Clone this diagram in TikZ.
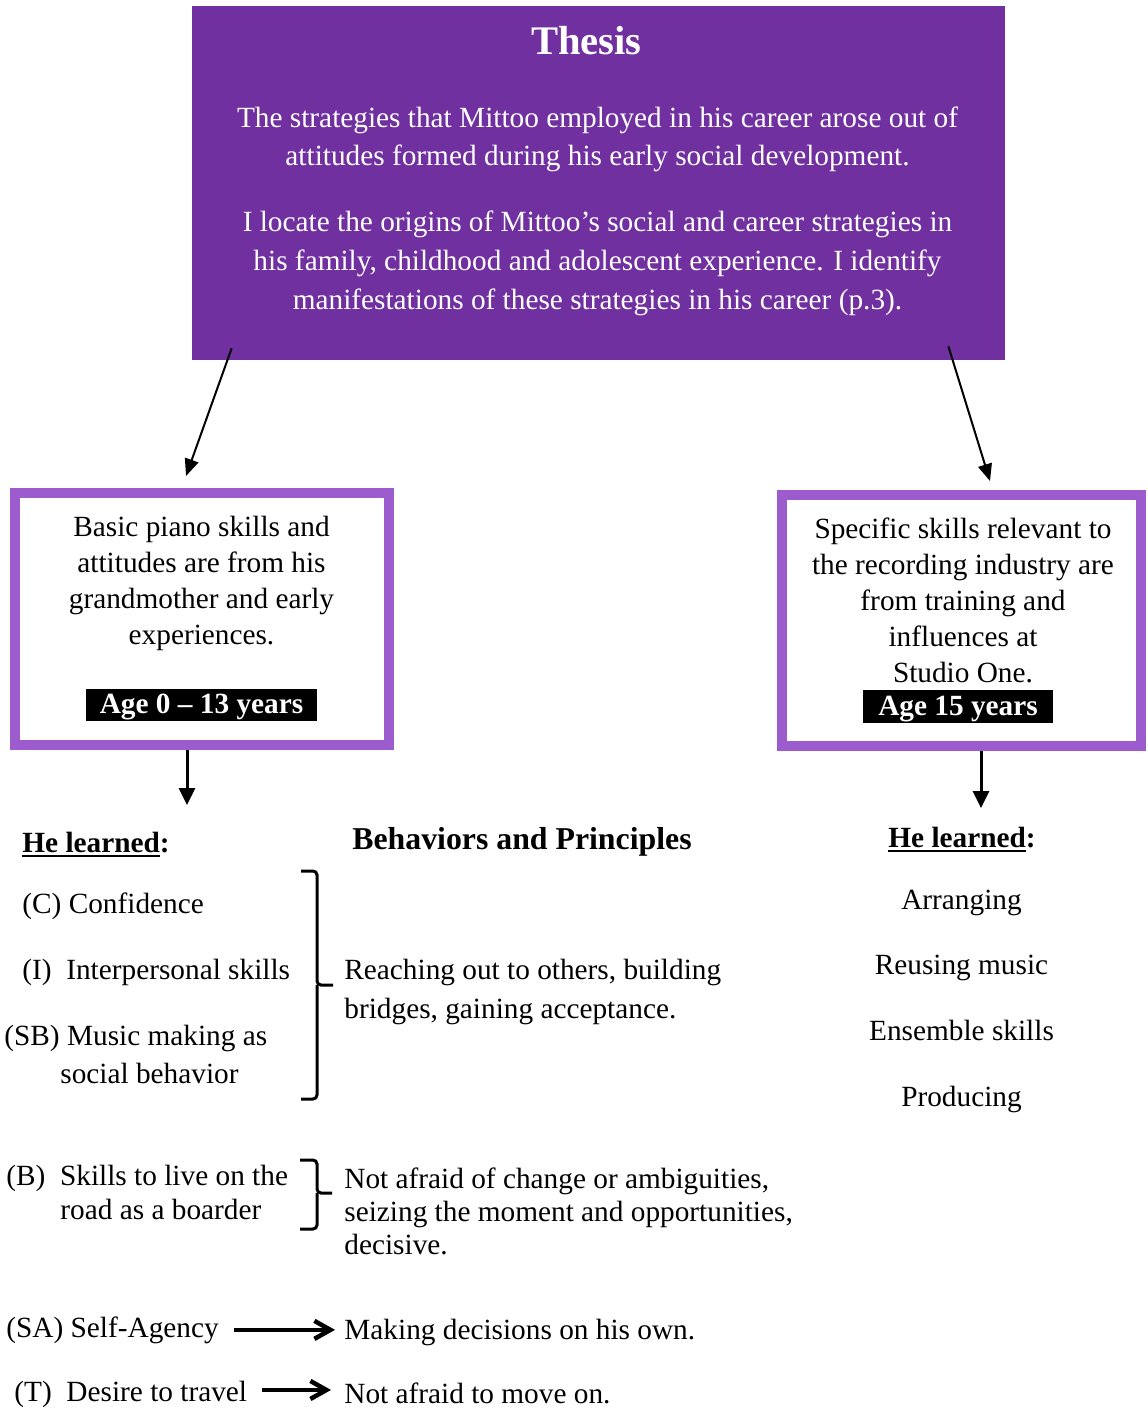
\documentclass[tikz,border=0pt]{standalone}
\usepackage{fontspec}
\setmainfont{Liberation Serif}
\usetikzlibrary{arrows.meta}
\definecolor{thesispurple}{HTML}{7030A0}
\definecolor{stagepurple}{HTML}{9D5CCE}
\newcommand{\learnline}[1]{\setbox0\hbox{#1}\rlap{\rule[-2.6pt]{\wd0}{1.3pt}}\box0}
\tikzset{
  thesisbox/.style = {rectangle, fill=thesispurple, minimum width=406.5pt,
                      minimum height=177pt, inner sep=0pt},
  thesistxt/.style = {text=white, align=center, inner sep=0pt, anchor=base},
  stagebox/.style  = {rectangle, draw=stagepurple, line width=5pt, fill=white, inner sep=0pt},
  stagetxt/.style  = {align=center, inner sep=0pt, anchor=base,
                      font=\fontsize{14.65}{18}\selectfont},
  agetag/.style    = {rectangle, fill=black, text=white, inner sep=0pt, minimum height=16pt,
                      text height=10.5pt, text depth=2pt,
                      font=\fontsize{14.65}{18}\selectfont\bfseries},
  item/.style      = {anchor=base west, inner sep=0pt, align=left,
                      font=\fontsize{14.65}{19}\selectfont},
  head/.style      = {anchor=base west, inner sep=0pt, font=\fontsize{14.65}{18}\selectfont\bfseries},
  skill/.style     = {anchor=base, inner sep=0pt, font=\fontsize{14.65}{18}\selectfont},
  link/.style      = {line width=1pt, -{Triangle[length=8.5pt,width=7pt]}},
  drop/.style      = {line width=1.5pt, -{Triangle[length=8.5pt,width=8pt]}},
  lead/.style      = {line width=2.25pt, -{Straight Barb[length=8pt,width=9pt]}},
  bracket/.style   = {line width=1.5pt, rounded corners=2pt},
}

\begin{document}
\begin{tikzpicture}[x=0.5pt, y=-0.5pt]
\useasboundingbox (0,0) rectangle (1147,1409);

% Thesis at the top (multi-line texts sit on their last baseline)
\node (thesis) [thesisbox] at (598.5,183) {};
\node (title) [thesistxt, font=\fontsize{20.3}{24}\selectfont\bfseries] at (586.5,54) {Thesis};
\node (claim) [thesistxt, font=\fontsize{14.65}{19}\selectfont] at (597.5,165)
  {The strategies that Mittoo employed in his career arose out of\\
   attitudes formed during his early social development.};
\node (origins) [thesistxt, font=\fontsize{14.65}{19.5}\selectfont] at (597.5,309)
  {I locate the origins of Mittoo’s social and career strategies in\\
   his family, childhood and adolescent experience. I identify\\
   manifestations of these strategies in his career (p.3).};

% The two stages
\node (early) [stagebox, minimum width=187pt, minimum height=126pt] at (202,619) {};
\node (earlytxt) [stagetxt] at (201.5,644) {Basic piano skills and\\attitudes are from his\\
  grandmother and early\\experiences.};
\node (earlyage) [agetag, minimum width=115.5pt] at (201.5,705) {Age 0 – 13 years};

\node (studio) [stagebox, minimum width=179.5pt, minimum height=125.5pt] at (961.5,620.5) {};
\node (studiotxt) [stagetxt] at (963,682) {Specific skills relevant to\\the recording industry are\\
  from training and\\influences at\\Studio One.};
\node (studioage) [agetag, minimum width=95pt, minimum height=16.5pt] at (958,706.5) {Age 15 years};

\draw [link] ([shift={(40,-12)}]thesis.south west) -- ([shift={(176,-12)}]early.north west);
\draw [link] ([shift={(-57,-14)}]thesis.south east) -- ([shift={(28.5,-9)}]studio.north);

\coordinate (dropL) at (187,805);
\coordinate (dropR) at (981,808);
\draw [drop] (early.south -| dropL) -- (dropL);
\draw [drop] (studio.south -| dropR) -- (dropR);

% Headings
\node (learnedL) [head] at (22,852) {\learnline{He learned}:};
\node (behav) [head, anchor=base, font=\fontsize{15.9}{19}\selectfont\bfseries] at (522,849)
  {Behaviors and Principles};
\node (learnedR) [head] at (888,847) {\learnline{He learned}:};

% Left column
\node (conf) [item] at (22,913) {(C) Confidence};
\node (inter) [item] at (22,979) {(I)~~Interpersonal skills};
\node (social) [item] at (4,1083) {(SB) Music making as\\\hspace*{28pt}social behavior};
\node (road) [item, font=\fontsize{14.65}{17}\selectfont] at (6,1219)
  {(B)~~Skills to live on the\\\hspace*{27pt}road as a boarder};
\node (agency) [item] at (6,1337) {(SA) Self-Agency};
\node (travel) [item] at (14,1401) {(T)~~Desire to travel};

% Middle column
\node (reach) [item, font=\fontsize{14.65}{19.5}\selectfont] at (344,1018)
  {Reaching out to others, building\\bridges, gaining acceptance.};
\node (change) [item, font=\fontsize{14.65}{16.5}\selectfont] at (344,1254)
  {Not afraid of change or ambiguities,\\seizing the moment and opportunities,\\decisive.};
\node (decide) [item] at (344,1339) {Making decisions on his own.};
\node (moveon) [item] at (344,1403) {Not afraid to move on.};

% Right column
\node (arrange) [skill] at (961.5,909) {Arranging};
\node (reuse) [skill] at (961.5,974) {Reusing music};
\node (ensemble) [skill] at (961.5,1040) {Ensemble skills};
\node (produce) [skill] at (961.5,1106) {Producing};

% Braces
\draw [bracket] (301,871) -| (317,985) -- (333,985);
\draw [bracket] (317,985) |- (301,1099);
\draw [bracket] (300,1160) -| (317,1193) -- (332,1193);
\draw [bracket] (317,1193) |- (300,1229);

\draw [lead, shorten <=7.5pt, shorten >=4.5pt] (agency.east) -- (agency.east -| decide.west);
\draw [lead, shorten <=7.5pt, shorten >=6.5pt] ([yshift=2pt]travel.east)
  -- ([yshift=2pt]travel.east -| moveon.west);

\end{tikzpicture}
\end{document}
